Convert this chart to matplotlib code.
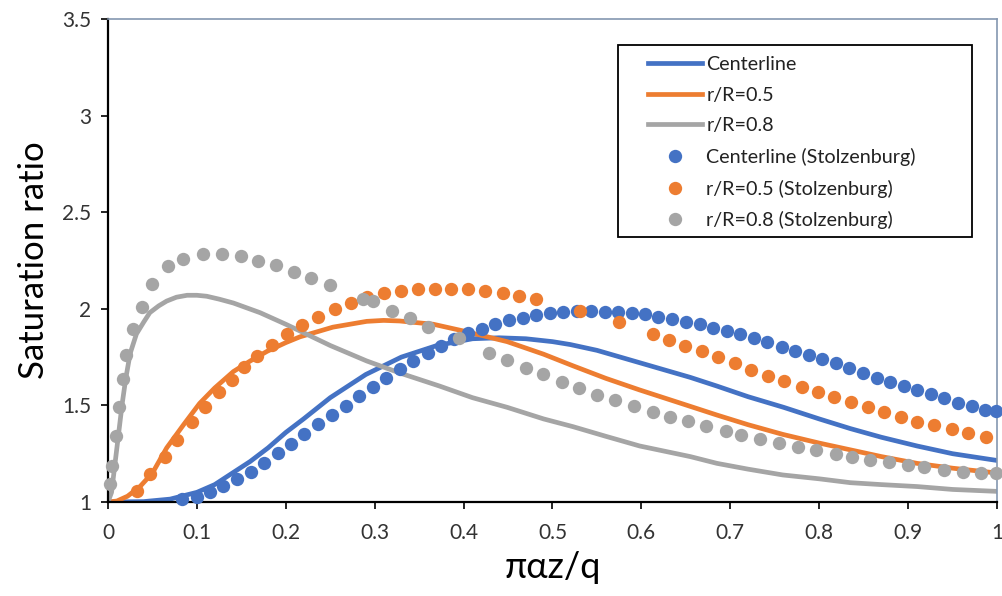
import numpy as np
import matplotlib
matplotlib.use('Agg')
import matplotlib.pyplot as plt
from matplotlib.patches import Rectangle

# ─── Data ────────────────────────────────────────────────────────────────────
# model curves
x_center = [0.0, 0.04, 0.07, 0.1, 0.12, 0.14, 0.16, 0.18, 0.2, 0.22, 0.25, 0.29,
            0.33, 0.37, 0.41, 0.44, 0.47, 0.5, 0.52, 0.55, 0.58, 0.61, 0.655,
            0.685, 0.72, 0.76, 0.8, 0.835, 0.87, 0.91, 0.95, 1.0]
y_center = [1.0, 1.002, 1.015, 1.05, 1.09, 1.15, 1.21, 1.28, 1.36, 1.43, 1.54, 1.66,
            1.75, 1.81, 1.845, 1.85, 1.845, 1.83, 1.815, 1.785, 1.745, 1.705, 1.645,
            1.60, 1.545, 1.49, 1.43, 1.38, 1.335, 1.29, 1.25, 1.215]

x_r05 = [0.0, 0.01, 0.022, 0.036, 0.05, 0.066, 0.085, 0.103, 0.12, 0.141, 0.16,
         0.179, 0.2, 0.216, 0.253, 0.291, 0.31, 0.328, 0.366, 0.4, 0.449, 0.49,
         0.523, 0.56, 0.598, 0.655, 0.685, 0.72, 0.759, 0.8, 0.835, 0.87, 0.91,
         0.95, 1.0]
y_r05 = [1.0, 1.005, 1.03, 1.08, 1.15, 1.28, 1.40, 1.51, 1.59, 1.675, 1.73,
         1.78, 1.825, 1.855, 1.905, 1.935, 1.94, 1.937, 1.92, 1.885, 1.83, 1.765,
         1.705, 1.64, 1.58, 1.495, 1.45, 1.40, 1.35, 1.305, 1.27, 1.235, 1.20,
         1.175, 1.15]

x_r08 = [0.0, 0.004, 0.01, 0.016, 0.02, 0.025, 0.032, 0.04, 0.047, 0.057, 0.066,
         0.077, 0.089, 0.1, 0.111, 0.125, 0.141, 0.171, 0.2, 0.216, 0.25, 0.291,
         0.33, 0.373, 0.41, 0.449, 0.49, 0.523, 0.56, 0.598, 0.655, 0.685, 0.72,
         0.759, 0.8, 0.835, 0.87, 0.91, 0.95, 1.0]
y_r08 = [1.0, 1.05, 1.28, 1.51, 1.64, 1.77, 1.87, 1.93, 1.98, 2.015, 2.04,
         2.06, 2.07, 2.07, 2.065, 2.05, 2.03, 1.98, 1.92, 1.885, 1.81, 1.73,
         1.665, 1.60, 1.54, 1.49, 1.43, 1.39, 1.34, 1.29, 1.235, 1.20, 1.17,
         1.14, 1.12, 1.10, 1.09, 1.08, 1.065, 1.055]

# Stolzenburg points
xs_center = [0.083, 0.100, 0.115, 0.129, 0.145, 0.161, 0.175, 0.191, 0.206, 0.220,
             0.236, 0.252, 0.268, 0.282, 0.298, 0.313, 0.328, 0.343, 0.360, 0.375,
             0.389, 0.405, 0.421, 0.435, 0.451, 0.467, 0.481, 0.497, 0.512, 0.528,
             0.543, 0.559, 0.574, 0.589, 0.604, 0.619, 0.634, 0.650, 0.666, 0.681,
             0.696, 0.711, 0.727, 0.741, 0.758, 0.773, 0.789, 0.803, 0.819, 0.834,
             0.849, 0.865, 0.880, 0.895, 0.910, 0.926, 0.940, 0.956, 0.972, 0.987,
             0.999]
ys_center = [1.015, 1.026, 1.052, 1.083, 1.119, 1.155, 1.201, 1.253, 1.300, 1.351,
             1.403, 1.449, 1.496, 1.548, 1.594, 1.640, 1.687, 1.728, 1.770, 1.806,
             1.842, 1.873, 1.894, 1.919, 1.940, 1.950, 1.966, 1.976, 1.981, 1.987,
             1.987, 1.981, 1.981, 1.976, 1.971, 1.956, 1.945, 1.930, 1.919, 1.899,
             1.883, 1.868, 1.847, 1.826, 1.801, 1.780, 1.759, 1.739, 1.718, 1.692,
             1.666, 1.640, 1.620, 1.599, 1.579, 1.558, 1.537, 1.511, 1.496, 1.475,
             1.470]

xs_r05 = [0.033, 0.047, 0.064, 0.078, 0.094, 0.109, 0.125, 0.139, 0.153, 0.168,
          0.184, 0.201, 0.218, 0.236, 0.255, 0.273, 0.291, 0.310, 0.330, 0.349,
          0.368, 0.386, 0.405, 0.424, 0.444, 0.462, 0.481, 0.531, 0.575, 0.613,
          0.631, 0.649, 0.668, 0.686, 0.705, 0.723, 0.742, 0.760, 0.781, 0.799,
          0.817, 0.836, 0.855, 0.873, 0.892, 0.910, 0.929, 0.949, 0.967, 0.988]
ys_r05 = [1.057, 1.145, 1.232, 1.320, 1.413, 1.491, 1.568, 1.630, 1.697, 1.754,
          1.811, 1.868, 1.914, 1.956, 1.997, 2.028, 2.059, 2.080, 2.090, 2.100,
          2.105, 2.105, 2.100, 2.090, 2.080, 2.064, 2.049, 1.987, 1.930, 1.868,
          1.837, 1.806, 1.780, 1.749, 1.718, 1.682, 1.651, 1.625, 1.594, 1.568,
          1.542, 1.517, 1.491, 1.465, 1.439, 1.413, 1.398, 1.377, 1.356, 1.336]

xs_r08 = [0.002, 0.0045, 0.009, 0.012, 0.017, 0.020, 0.028, 0.038, 0.049, 0.067,
          0.084, 0.107, 0.128, 0.150, 0.169, 0.189, 0.209, 0.228, 0.250, 0.287,
          0.298, 0.319, 0.340, 0.360, 0.395, 0.429, 0.449, 0.470, 0.489, 0.511,
          0.530, 0.550, 0.570, 0.592, 0.613, 0.632, 0.652, 0.673, 0.695, 0.712,
          0.733, 0.755, 0.776, 0.796, 0.819, 0.837, 0.857, 0.879, 0.900, 0.918,
          0.940, 0.962, 0.982, 0.999]
ys_r08 = [1.093, 1.186, 1.341, 1.491, 1.635, 1.759, 1.894, 2.007, 2.126, 2.219,
          2.260, 2.286, 2.286, 2.271, 2.250, 2.229, 2.193, 2.162, 2.121, 2.049,
          2.038, 1.987, 1.950, 1.904, 1.847, 1.770, 1.733, 1.692, 1.661, 1.620,
          1.589, 1.553, 1.527, 1.496, 1.465, 1.439, 1.418, 1.393, 1.367, 1.346,
          1.325, 1.305, 1.284, 1.269, 1.248, 1.232, 1.217, 1.207, 1.191, 1.181,
          1.165, 1.155, 1.150, 1.150]

x_ticks = [0, 0.1, 0.2, 0.3, 0.4, 0.5, 0.6, 0.7, 0.8, 0.9, 1]
x_tick_labels = ['0', '0.1', '0.2', '0.3', '0.4', '0.5', '0.6', '0.7', '0.8', '0.9', '1']
y_ticks = [1, 1.5, 2, 2.5, 3, 3.5]
y_tick_labels = ['1', '1.5', '2', '2.5', '3', '3.5']

# ─── Style ───────────────────────────────────────────────────────────────────
BLUE = '#4472C4'
ORANGE = '#ED7D31'
GRAY = '#A5A5A5'
FRAME = '#8497B0'
W, H = 1003, 596

plt.rcParams['font.family'] = ['Lato', 'DejaVu Sans']

fig = plt.figure(figsize=(W / 100, H / 100), dpi=100)
ax = fig.add_axes([108 / W, 1 - 502 / H, (997 - 108) / W, (502 - 19) / H])

LW = 3.4
MS = 9.6
ax.plot(x_center, y_center, color=BLUE, lw=LW, label='Centerline', zorder=2)
ax.plot(x_r05, y_r05, color=ORANGE, lw=LW, label='r/R=0.5', zorder=2)
ax.plot(x_r08, y_r08, color=GRAY, lw=LW, label='r/R=0.8', zorder=2)
ax.plot(xs_center, ys_center, 'o', color=BLUE, ms=MS, mew=0,
        label='Centerline (Stolzenburg)', zorder=3, clip_on=False)
ax.plot(xs_r05, ys_r05, 'o', color=ORANGE, ms=MS, mew=0,
        label='r/R=0.5 (Stolzenburg)', zorder=3, clip_on=False)
ax.plot(xs_r08, ys_r08, 'o', color=GRAY, ms=MS, mew=0,
        label='r/R=0.8 (Stolzenburg)', zorder=3, clip_on=False)

ax.set_xlim(0, 1)
ax.set_ylim(1, 3.5)
ax.set_xticks(x_ticks)
ax.set_xticklabels(x_tick_labels)
ax.set_yticks(y_ticks)
ax.set_yticklabels(y_tick_labels)
ax.tick_params(axis='both', direction='out', length=5, width=1.2,
               colors='black', labelsize=15, labelcolor='#333333')
ax.tick_params(axis='x', pad=10)
ax.tick_params(axis='y', pad=7)

for sp in ['left', 'bottom']:
    ax.spines[sp].set_color('black')
    ax.spines[sp].set_linewidth(1.6)
for sp in ['top', 'right']:
    ax.spines[sp].set_color(FRAME)
    ax.spines[sp].set_linewidth(1.2)

ax.set_xlabel('παz/q', fontsize=26, labelpad=6)
ax.set_ylabel('Saturation ratio', fontsize=25, labelpad=9)

# legend: no frame, box drawn separately to match the reference
leg = ax.legend(loc='upper left', bbox_to_anchor=(648 / W, 1 - 56 / H),
                bbox_transform=fig.transFigure, frameon=False, fontsize=14.2,
                handlelength=2.75, handletextpad=0.2, labelspacing=0.69,
                borderpad=0, borderaxespad=0, numpoints=1)
for t in leg.get_texts():
    t.set_color('#222222')
fig.patches.append(Rectangle((618 / W, 1 - 237 / H), (972 - 618) / W, (237 - 45) / H,
                             fill=False, edgecolor='black', lw=1.3,
                             transform=fig.transFigure, figure=fig))

fig.savefig('out.png', dpi=100)
